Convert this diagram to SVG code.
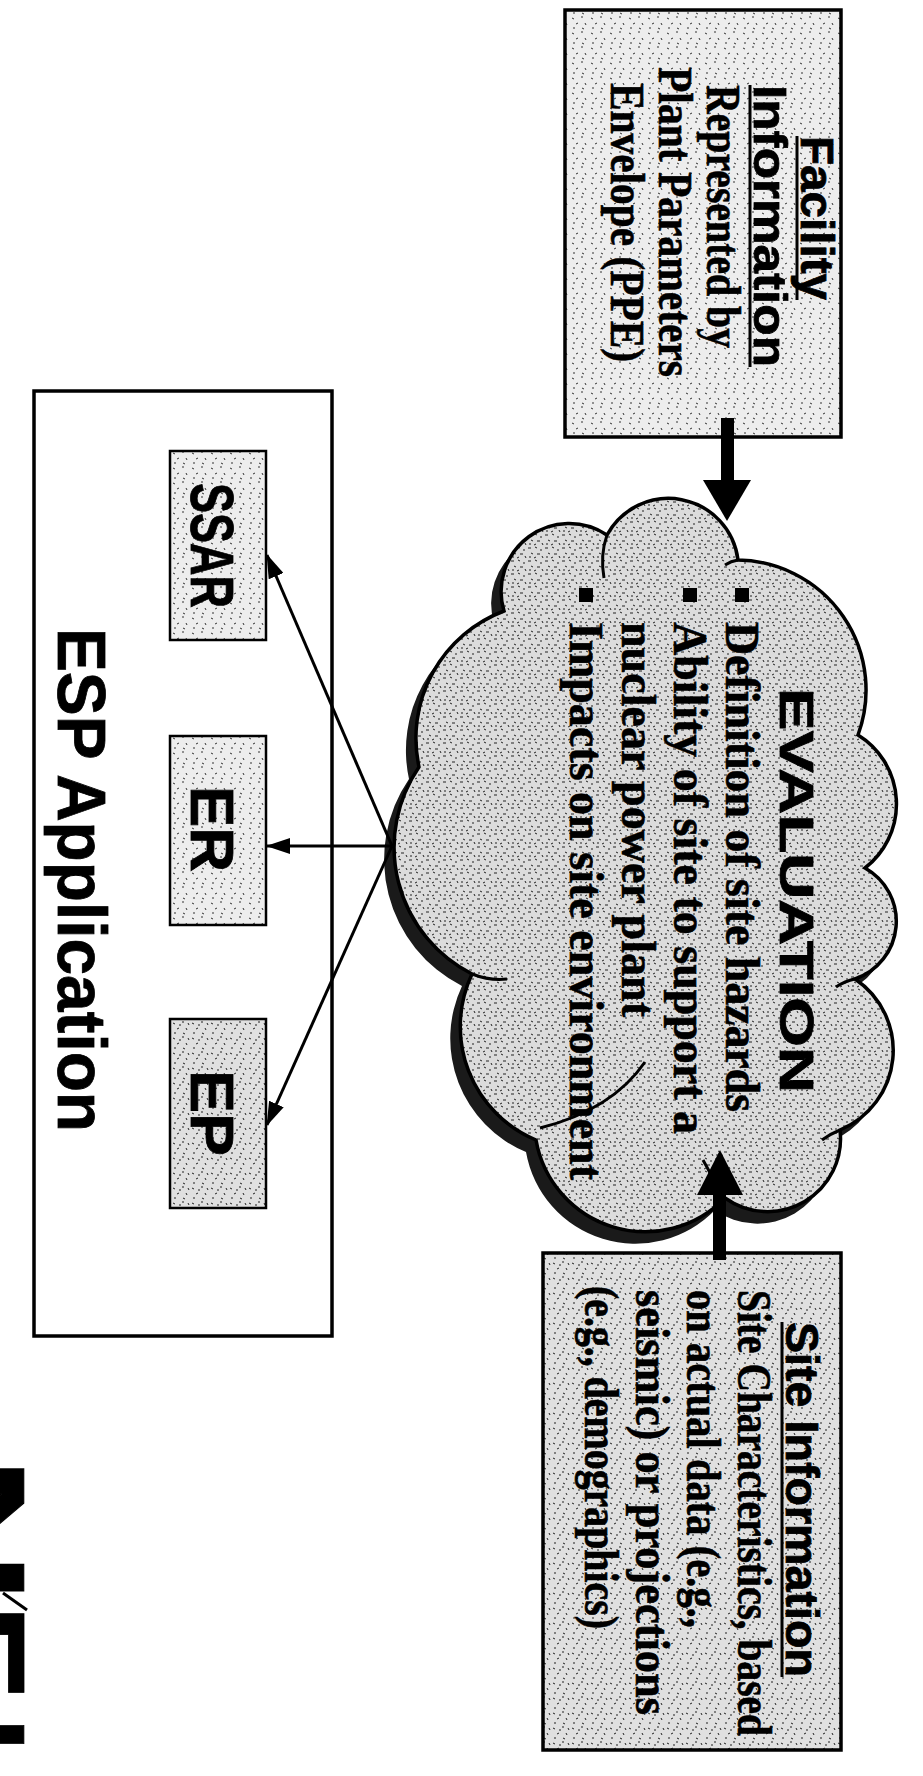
<svg xmlns="http://www.w3.org/2000/svg" width="923" height="1776" viewBox="0 0 923 1776">
<style>
.box{stroke:#000;stroke-width:3.5}
.sbox{stroke:#000;stroke-width:2.5}
.ttl{font-family:"Liberation Sans",Arial,sans-serif;font-weight:bold;fill:#000;stroke:#000;stroke-width:0.8}
.body{font-family:"Liberation Serif","Times New Roman",serif;font-weight:bold;fill:#000;stroke:#000;stroke-width:0.6;font-size:49px}
.ul{stroke:#000;stroke-width:3}
.thin{stroke:#000;stroke-width:3;fill:none}
.inner{stroke:#000;stroke-width:3;fill:none}
</style>
<defs>
<pattern id="stipC" width="17" height="13" patternUnits="userSpaceOnUse">
<rect width="17" height="13" fill="#dcdcdc"/>
<path d="M1 2h3M8 1l2 1M13 4h2M4 7l2 1M10 8h3M15 10l1 2M2 11h2M7 12l2-1" stroke="#222" stroke-width="1"/>
</pattern>
<pattern id="stipB" width="19" height="15" patternUnits="userSpaceOnUse">
<rect width="19" height="15" fill="#ededed"/>
<path d="M2 3l2 1M11 2h2M6 9l2-1M15 8l1 2M3 13h2M12 13l2 1" stroke="#333" stroke-width="1"/>
</pattern>
<pattern id="stipD" width="19" height="15" patternUnits="userSpaceOnUse">
<rect width="19" height="15" fill="#e0e0e0"/>
<path d="M2 3l2 1M11 2h2M6 9l2-1M15 8l1 2M3 13h2M12 13l2 1M8 5h2M17 3l1 2" stroke="#222" stroke-width="1"/>
</pattern>
<marker id="ah" viewBox="0 0 24 16" refX="23" refY="8" markerWidth="24" markerHeight="16" markerUnits="userSpaceOnUse" orient="auto">
<path d="M0,0 L24,8 L0,16 z" fill="#000"/>
</marker>
<path id="cloudShape" d="M504,611 A68,68 0 0 1 607,535 A70,70 0 0 1 738,560 A130,130 0 0 1 858,735 A81,81 0 0 1 865,868 A61,61 0 0 1 855,979 A86,86 0 0 1 840,1130 A73,73 0 0 1 725,1198 A111,111 0 0 1 536,1140 A123,123 0 0 1 472,974 A142,142 0 0 1 419,767 A136,136 0 0 1 504,611 Z"/>
</defs>
<rect width="923" height="1776" fill="#fff"/>

<g id="facility">
<rect class="box" x="565" y="10" width="276" height="427" fill="url(#stipB)"/>
<text class="ttl" font-size="47" transform="translate(801,136) rotate(90)" textLength="164" lengthAdjust="spacingAndGlyphs">Facility</text>
<line class="ul" x1="797" y1="136" x2="797" y2="300"/>
<text class="ttl" font-size="47" transform="translate(754,85) rotate(90)" textLength="282" lengthAdjust="spacingAndGlyphs">Information</text>
<line class="ul" x1="750" y1="85" x2="750" y2="367"/>
<text class="body" transform="translate(707,85) rotate(90)" textLength="263" lengthAdjust="spacingAndGlyphs">Represented by</text>
<text class="body" transform="translate(659,67) rotate(90)" textLength="310" lengthAdjust="spacingAndGlyphs">Plant Parameters</text>
<text class="body" transform="translate(611,83) rotate(90)" textLength="279" lengthAdjust="spacingAndGlyphs">Envelope (PPE)</text>
</g>

<g id="evaluation">
<use href="#cloudShape" transform="translate(-10,12)" fill="#1a1a1a"/>
<use href="#cloudShape" fill="url(#stipC)" stroke="#000" stroke-width="3.5"/>
<path class="inner" d="M607,535 Q600,555 604,578"/>
<path class="inner" d="M738,560 Q731,561 725,565"/>
<path class="inner" d="M472,974 Q490,981 507,979"/>
<path class="inner" d="M540,1128 Q612,1110 645,1062"/>
<path class="inner" d="M855,979 Q845,981 836,987"/>
<path class="inner" d="M840,1130 Q830,1134 822,1140"/>
<path class="inner" d="M722,1196 Q712,1176 703,1160"/>
<text class="ttl" font-size="48" transform="translate(780,688) rotate(90)" textLength="405" lengthAdjust="spacingAndGlyphs">EVALUATION</text>
<rect x="735" y="588" width="14" height="14" fill="#000"/>
<rect x="683" y="588" width="14" height="14" fill="#000"/>
<rect x="579" y="588" width="14" height="14" fill="#000"/>
<text class="body" transform="translate(726,622) rotate(90)" textLength="490" lengthAdjust="spacingAndGlyphs">Definition of site hazards</text>
<text class="body" transform="translate(674,622) rotate(90)" textLength="512" lengthAdjust="spacingAndGlyphs">Ability of site to support a</text>
<text class="body" transform="translate(622,622) rotate(90)" textLength="395" lengthAdjust="spacingAndGlyphs">nuclear power plant</text>
<text class="body" transform="translate(570,622) rotate(90)" textLength="558" lengthAdjust="spacingAndGlyphs">Impacts on site environment</text>
</g>

<g id="site">
<rect class="box" x="543" y="1253" width="298" height="497" fill="url(#stipD)"/>
<text class="ttl" font-size="47" transform="translate(786,1322) rotate(90)" textLength="355" lengthAdjust="spacingAndGlyphs">Site Information</text>
<line class="ul" x1="782" y1="1322" x2="782" y2="1677"/>
<text class="body" transform="translate(738,1290) rotate(90)" textLength="446" lengthAdjust="spacingAndGlyphs">Site Characteristics, based</text>
<text class="body" transform="translate(687,1290) rotate(90)" textLength="338" lengthAdjust="spacingAndGlyphs">on actual data (e.g.,</text>
<text class="body" transform="translate(636,1290) rotate(90)" textLength="425" lengthAdjust="spacingAndGlyphs">seismic) or projections</text>
<text class="body" transform="translate(585,1286) rotate(90)" textLength="343" lengthAdjust="spacingAndGlyphs">(e.g., demographics)</text>
</g>

<g id="esp">
<rect class="box" x="34" y="391" width="298" height="945" fill="#fff"/>
<text class="ttl" font-size="68" transform="translate(58,628) rotate(90)" textLength="504" lengthAdjust="spacingAndGlyphs">ESP Application</text>
</g>
<g id="ssar">
<rect class="sbox" x="170" y="451" width="96" height="189" fill="url(#stipB)"/>
<text class="ttl" font-size="62" transform="translate(191,483) rotate(90)" textLength="125" lengthAdjust="spacingAndGlyphs">SSAR</text>
</g>
<g id="er">
<rect class="sbox" x="170" y="736" width="96" height="189" fill="url(#stipB)"/>
<text class="ttl" font-size="62" transform="translate(191,786) rotate(90)" textLength="86" lengthAdjust="spacingAndGlyphs">ER</text>
</g>
<g id="ep">
<rect class="sbox" x="170" y="1019" width="96" height="189" fill="url(#stipD)"/>
<text class="ttl" font-size="62" transform="translate(191,1070) rotate(90)" textLength="86" lengthAdjust="spacingAndGlyphs">EP</text>
</g>

<g id="nei">
<text class="ttl" font-size="140" transform="translate(-72,1455) rotate(90)" textLength="150" lengthAdjust="spacingAndGlyphs">N</text>
<line x1="3" y1="1593" x2="27" y2="1610" stroke="#000" stroke-width="3"/>
<text class="ttl" font-size="140" transform="translate(-72,1604) rotate(90)" textLength="97" lengthAdjust="spacingAndGlyphs">E</text>
<text class="ttl" font-size="140" transform="translate(-72,1717) rotate(90)" textLength="35" lengthAdjust="spacingAndGlyphs">I</text>
</g>

<g id="connectors">
<rect x="721" y="418" width="13" height="64" fill="#000"/>
<polygon points="703,480 751,480 727,521" fill="#000"/>
<rect x="713" y="1192" width="13" height="68" fill="#000"/>
<polygon points="697,1195 743,1195 720,1150" fill="#000"/>
<line class="thin" x1="392" y1="846" x2="267" y2="555" marker-end="url(#ah)"/>
<line class="thin" x1="392" y1="846" x2="267" y2="846" marker-end="url(#ah)"/>
<line class="thin" x1="392" y1="846" x2="267" y2="1125" marker-end="url(#ah)"/>
</g>
</svg>
